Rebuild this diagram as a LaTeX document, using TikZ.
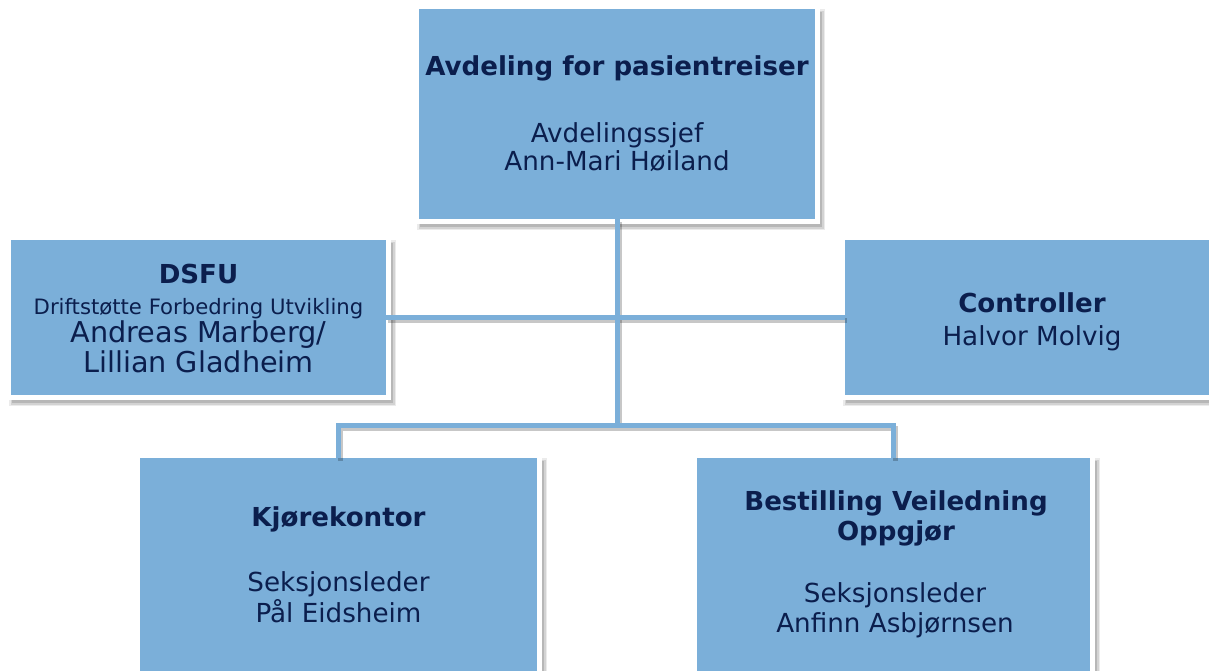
\documentclass[tikz,border=0pt]{standalone}
\usepackage{fontspec}
\setmainfont{DejaVu Sans}
\definecolor{boxblue}{HTML}{7BAFD9}
\definecolor{navy}{HTML}{0B1E4D}
\tikzset{
  orgbox/.style={fill=boxblue, draw=none, inner sep=0pt, outer sep=0pt},
  conn/.style={draw=boxblue, line width=5pt, line join=miter},
  connshadow/.style={draw=black, opacity=0.22, line width=5pt, line join=miter,
    transform canvas={shift={(2pt,-3pt)}}},
  lbold/.style={anchor=base, text=navy, inner sep=0pt,
    font=\fontsize{26.1}{30}\selectfont\bfseries},
  lreg/.style={anchor=base, text=navy, inner sep=0pt,
    font=\fontsize{26.2}{30}\selectfont},
  lbig/.style={anchor=base, text=navy, inner sep=0pt,
    font=\fontsize{28.7}{32}\selectfont},
  lsmall/.style={anchor=base, text=navy, inner sep=0pt,
    font=\fontsize{21.2}{24}\selectfont},
}
% #1 name, #2 left, #3 top, #4 right, #5 bottom (pixel units, y downwards)
\newcommand\orgframe[5]{%
  \foreach \d/\o in {0/0.08,1.5/0.10,3/0.13}{%
    \fill[black,opacity=\o] ({#2-2+\d},{#3+0+\d}) rectangle ({#4+10-\d},{#5+11-\d});
  }
  \fill[white] ({#2-5},{#3-5}) rectangle ({#4+5},{#5+5});
  \node[orgbox, minimum width={(#4-#2)*1pt}, minimum height={(#5-#3)*1pt}]
    (#1) at ({(#2+#4)/2},{(#3+#5)/2}) {};
}
\begin{document}
\begin{tikzpicture}[x=1pt,y=-1pt]
\useasboundingbox (0,0) rectangle (1209,670);
\clip (0,0) rectangle (1209,670);
\fill[white] (0,0) rectangle (1209,670);

\orgframe{top}{419}{9}{815}{219}
\orgframe{dsfu}{11}{240}{386}{395}
\orgframe{ctrl}{845}{240}{1219}{395}
\orgframe{kjore}{140}{458}{537}{700}
\orgframe{bestill}{697}{458}{1090}{700}

\coordinate (hub) at (617,425);
\draw[connshadow] (top.south) -- (hub);
\draw[connshadow] (dsfu.east) -- (ctrl.west);
\draw[connshadow] (kjore.north) -- (kjore.north |- hub) -- (bestill.north |- hub) -- (bestill.north);
\draw[conn] (top.south) -- (hub);
\draw[conn] (dsfu.east) -- (ctrl.west);
\draw[conn] (kjore.north) -- (kjore.north |- hub) -- (bestill.north |- hub) -- (bestill.north);

\node[lbold] (t1) at (617,75) {Avdeling for pasientreiser};
\node[lreg]  (t2) at (617,142) {Avdelingssjef};
\node[lreg]  (t3) at (617,170) {Ann-Mari Høiland};

\node[lbold]  (d1) at (198.5,283) {DSFU};
\node[lsmall] (d2) at (198.5,314) {Driftstøtte Forbedring Utvikling};
\node[lbig]   (d3) at (198.5,342) {Andreas Marberg/};
\node[lbig]   (d4) at (198.5,372) {Lillian Gladheim};

\node[lbold] (c1) at (1032,312) {Controller};
\node[lreg]  (c2) at (1032,345) {Halvor Molvig};

\node[lbold] (k1) at (338.5,526) {Kjørekontor};
\node[lreg]  (k2) at (338.5,591) {Seksjonsleder};
\node[lreg]  (k3) at (338.5,622) {Pål Eidsheim};

\node[lbold] (b1) at (896,510) {Bestilling Veiledning};
\node[lbold] (b2) at (896,540) {Oppgjør};
\node[lreg]  (b3) at (895,602) {Seksjonsleder};
\node[lreg]  (b4) at (895,632) {Anfinn Asbjørnsen};
\end{tikzpicture}
\end{document}
